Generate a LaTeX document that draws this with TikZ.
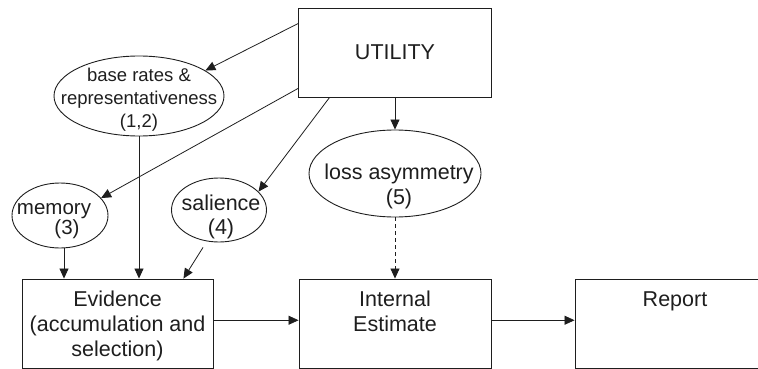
\documentclass[tikz,border=0pt]{standalone}
\usepackage{fontspec}
\setmainfont{Liberation Sans}
\usepackage{tikz}
\usetikzlibrary{arrows.meta,shapes.geometric}
\definecolor{ink}{HTML}{1E1E1E}

\tikzset{
  box/.style={draw=ink, rectangle, line width=0.9pt, inner sep=0pt,
              minimum width=191pt, minimum height=89.5pt},
  oval/.style={draw=ink, ellipse, line width=0.9pt, inner sep=0pt},
  boxtext/.style={anchor=north, yshift=-12.5pt, align=center, inner sep=0pt,
                  text=ink, font=\fontsize{21.5}{25}\selectfont},
  ovaltext/.style={align=center, inner sep=0pt, text=ink},
  link/.style={draw=ink, line width=0.8pt, -{Triangle[length=10pt,width=9pt]}},
}

\begin{document}
\begin{tikzpicture}[x=1pt, y=-1pt]
\useasboundingbox (0,0) rectangle (758,369);

% top box
\node[box, minimum width=193pt, minimum height=89pt,
      font=\fontsize{21.5}{25}\selectfont, text=ink] (util) at (395,52.5) {UTILITY};

% biases
\node[oval, minimum width=170pt, minimum height=80pt,
      label={[ovaltext, yshift=-4pt, font=\fontsize{18.5}{23}\selectfont]center:{base rates \&\\representativeness\\(1,2)}}]
      (base) at (139,96) {};
\node[oval, minimum width=96pt, minimum height=65pt,
      label={[ovaltext, yshift=-6pt, font=\fontsize{20.5}{19}\selectfont]center:{memory\hspace*{12pt}\\\hspace*{14pt}(3)}}]
      (mem) at (60,215.5) {};
\node[oval, minimum width=95pt, minimum height=64pt,
      label={[ovaltext, xshift=2pt, yshift=-7pt, font=\fontsize{21.5}{23.5}\selectfont]center:{salience\\(4)}}]
      (sal) at (219,210) {};
\node[oval, minimum width=172pt, minimum height=87pt,
      label={[ovaltext, xshift=4pt, yshift=-13pt, font=\fontsize{21.5}{25}\selectfont]center:{loss asymmetry\\(5)}}]
      (loss) at (395,173.5) {};

% stages
\node[box, label={[boxtext]north:{Evidence\\(accumulation and\\selection)}}] (ev) at (117.5,323.75) {};
\node[box, minimum width=192pt, label={[boxtext]north:{Internal\\Estimate}}] (int) at (395,323.75) {};
\node[box, minimum width=200pt, label={[boxtext]north:{Report}}] (rep) at (675,323.75) {};

% utility influences
\draw[link] ([yshift=-16pt]util.north west) -- (base.21);
\draw[link] ([yshift=9pt]util.south west) -- (mem.23);
\draw[link] ([xshift=31.5pt]util.south west) -- (sal.25);
\draw[link] (util.south) -- (loss.north);

% into evidence
\draw[link] ([xshift=4pt]mem.south) -- ([xshift=4pt]mem.south |- ev.north);
\draw[link] (base.south) -- (base.south |- ev.north);
\draw[link] ([shift={(-16pt,-5pt)}]sal.south) -- ([xshift=-30pt]ev.north east);
\draw[link, dash pattern=on 4pt off 3pt] (loss.south) -- (int.north);

% pipeline
\draw[link] ([yshift=3.5pt]ev.east) -- ([yshift=3.5pt]int.west);
\draw[link] ([yshift=3.5pt]int.east) -- ([yshift=3.5pt]rep.west);
\end{tikzpicture}
\end{document}
